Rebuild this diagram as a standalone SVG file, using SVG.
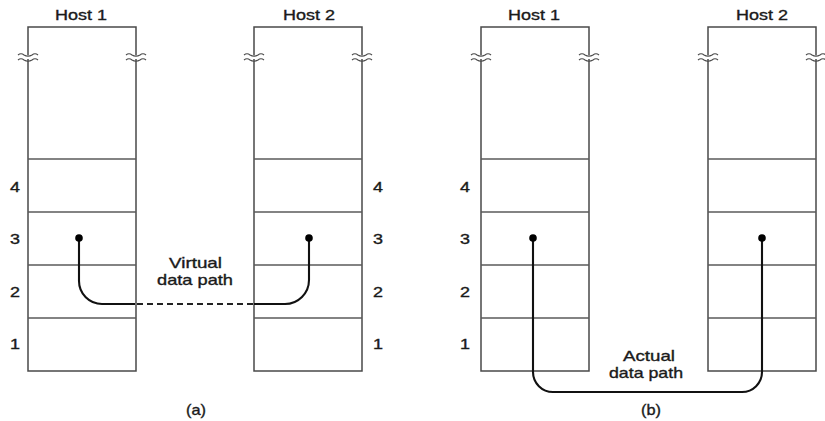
<svg xmlns="http://www.w3.org/2000/svg" width="825" height="421" viewBox="0 0 825 421">
  <style>
    .box { fill: none; stroke: #4a4a4a; stroke-width: 1.5; }
    .div { stroke: #5a5a5a; stroke-width: 1.3; }
    .brk { fill: none; stroke: #4a4a4a; stroke-width: 1.2; }
    .path { fill: none; stroke: #111; stroke-width: 2.1; }
    .dash { fill: none; stroke: #222; stroke-width: 1.9; stroke-dasharray: 6 4; }
    .dot { fill: #000; }
    text { font-family: "Liberation Sans", Arial, sans-serif; fill: #1a1a1a; stroke: #1a1a1a; stroke-width: 0.35; text-anchor: middle; }
    .host { font-size: 15px; }
    .lay { font-size: 14px; }
    .lbl { font-size: 15px; }
  </style>
  <defs>
    <!-- one stack of layers: open top with break marks, four dividers -->
    <g id="stack">
      <path class="box" d="M0,28.5 V0 H108 V28.5 M0,32 V344 H108 V32"/>
      <line class="div" x1="0" y1="132" x2="108" y2="132"/>
      <line class="div" x1="0" y1="185" x2="108" y2="185"/>
      <line class="div" x1="0" y1="238" x2="108" y2="238"/>
      <line class="div" x1="0" y1="291" x2="108" y2="291"/>
      <path class="brk" d="M-10,28 q3,-2.5 6,0 q4,2.5 8,0 q3,-2.5 6,0"/>
      <path class="brk" d="M-10,33 q3,-2.5 6,0 q4,2.5 8,0 q3,-2.5 6,0"/>
      <path class="brk" d="M98,28 q3,-2.5 6,0 q4,2.5 8,0 q3,-2.5 6,0"/>
      <path class="brk" d="M98,33 q3,-2.5 6,0 q4,2.5 8,0 q3,-2.5 6,0"/>
    </g>
  </defs>

  <!-- (a) virtual path -->
  <g id="a-host1">
    <use href="#stack" x="28" y="27"/>
    <text class="host" x="81" y="20" textLength="52" lengthAdjust="spacingAndGlyphs">Host 1</text>
    <text class="lay" x="15" y="192" textLength="10" lengthAdjust="spacingAndGlyphs">4</text>
    <text class="lay" x="15" y="244" textLength="10" lengthAdjust="spacingAndGlyphs">3</text>
    <text class="lay" x="15" y="297" textLength="10" lengthAdjust="spacingAndGlyphs">2</text>
    <text class="lay" x="15" y="349" textLength="10" lengthAdjust="spacingAndGlyphs">1</text>
  </g>
  <g id="a-host2">
    <use href="#stack" x="254" y="27"/>
    <text class="host" x="309" y="20" textLength="52" lengthAdjust="spacingAndGlyphs">Host 2</text>
    <text class="lay" x="378" y="192" textLength="10" lengthAdjust="spacingAndGlyphs">4</text>
    <text class="lay" x="378" y="244" textLength="10" lengthAdjust="spacingAndGlyphs">3</text>
    <text class="lay" x="378" y="297" textLength="10" lengthAdjust="spacingAndGlyphs">2</text>
    <text class="lay" x="378" y="349" textLength="10" lengthAdjust="spacingAndGlyphs">1</text>
  </g>

  <!-- (b) actual path -->
  <g id="b-host1">
    <use href="#stack" x="481" y="27"/>
    <text class="host" x="534" y="20" textLength="52" lengthAdjust="spacingAndGlyphs">Host 1</text>
    <text class="lay" x="465" y="192" textLength="10" lengthAdjust="spacingAndGlyphs">4</text>
    <text class="lay" x="465" y="244" textLength="10" lengthAdjust="spacingAndGlyphs">3</text>
    <text class="lay" x="465" y="297" textLength="10" lengthAdjust="spacingAndGlyphs">2</text>
    <text class="lay" x="465" y="349" textLength="10" lengthAdjust="spacingAndGlyphs">1</text>
  </g>
  <g id="b-host2">
    <use href="#stack" x="708" y="27"/>
    <text class="host" x="762" y="20" textLength="52" lengthAdjust="spacingAndGlyphs">Host 2</text>
  </g>

  <g id="connectors">
    <path class="path" d="M79,238 V281 A23,23 0 0 0 102,304 H135"/>
    <line class="dash" x1="137" y1="304" x2="254" y2="304"/>
    <path class="path" d="M254,304 H285 A24,24 0 0 0 309,280 V238"/>
    <circle class="dot" cx="79" cy="238" r="3.8"/>
    <circle class="dot" cx="309" cy="238" r="3.8"/>

    <path class="path" d="M533,238 V372 A20,20 0 0 0 553,392 H742 A20,20 0 0 0 762,372 V238"/>
    <circle class="dot" cx="533" cy="238" r="3.8"/>
    <circle class="dot" cx="762" cy="238" r="3.8"/>
  </g>

  <g id="labels">
    <text class="lbl" x="195.5" y="268" textLength="53" lengthAdjust="spacingAndGlyphs">Virtual</text>
    <text class="lbl" x="195" y="285" textLength="76" lengthAdjust="spacingAndGlyphs">data path</text>
    <text class="lbl" x="649" y="361" textLength="52" lengthAdjust="spacingAndGlyphs">Actual</text>
    <text class="lbl" x="646" y="378" textLength="74" lengthAdjust="spacingAndGlyphs">data path</text>
    <text class="lbl" x="196" y="415" textLength="20" lengthAdjust="spacingAndGlyphs">(a)</text>
    <text class="lbl" x="651" y="415" textLength="20" lengthAdjust="spacingAndGlyphs">(b)</text>
  </g>
</svg>
